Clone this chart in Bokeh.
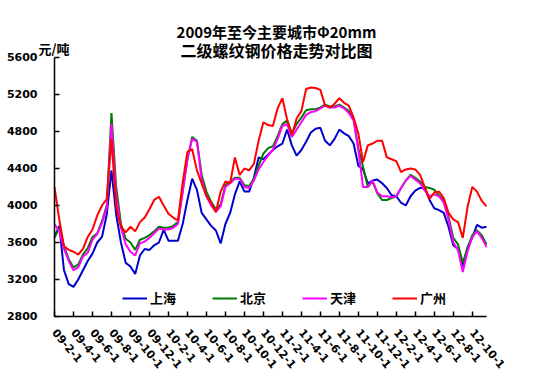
from math import pi
from bokeh.plotting import figure
from bokeh.models import FixedTicker, Range1d, Legend, LegendItem, Label, LinearAxis
from bokeh.embed import file_html
from bokeh.resources import INLINE

# x: months since 2009-02-01, half-month sampling
months = [i * 0.5 for i in range(92)]

tick_pos = [0, 2, 4, 6, 8, 10, 12, 14, 16, 18, 20, 22, 24, 26, 28, 30, 32, 34, 36, 38, 40, 42, 44]
tick_labels = ["09-2-1", "09-4-1", "09-6-1", "09-8-1", "09-10-1", "09-12-1",
               "10-2-1", "10-4-1", "10-6-1", "10-8-1", "10-10-1", "10-12-1",
               "11-2-1", "11-4-1", "11-6-1", "11-8-1", "11-10-1", "11-12-1",
               "12-2-1", "12-4-1", "12-6-1", "12-8-1", "12-10-1"]
y_ticks = [2800, 3200, 3600, 4000, 4400, 4800, 5200, 5600]

shanghai = [3660, 3780, 3300, 3150, 3120, 3200, 3300, 3400, 3480, 3600,
            3660, 3900, 4380, 3900, 3600, 3380, 3340, 3260, 3460, 3530,
            3520, 3570, 3600, 3740, 3620, 3620, 3620, 3800, 4060, 4290,
            4170, 3920, 3850, 3780, 3730, 3590, 3800, 3920, 4120, 4260,
            4150, 4150, 4300, 4520, 4500, 4550, 4600, 4640, 4670, 4820,
            4650, 4540, 4600, 4690, 4790, 4830, 4840, 4700, 4650, 4720,
            4820, 4780, 4750, 4670, 4430, 4390, 4240, 4270, 4280, 4240,
            4190, 4110, 4100, 4030, 4000, 4100, 4160, 4190, 4190, 4060,
            3970, 3950, 3920, 3770, 3570, 3530, 3340, 3550, 3650, 3790,
            3760, 3770]

beijing = [3650, 3760, 3560, 3420, 3330, 3360, 3470, 3540, 3660, 3700,
           3830, 4000, 5000, 4200, 3800, 3640, 3600, 3520, 3630, 3650,
           3680, 3720, 3770, 3760, 3760, 3780, 3820, 4150, 4500, 4740,
           4700, 4330, 4150, 4040, 3960, 4010, 4220, 4260, 4300, 4300,
           4220, 4210, 4290, 4430, 4560, 4620, 4640, 4750, 4880, 4920,
           4780, 4880, 4950, 5030, 5040, 5040, 5060, 5090, 5070, 5070,
           5090, 5060, 5020, 4940, 4620, 4420, 4200, 4260, 4130, 4060,
           4060, 4080, 4100, 4190, 4270, 4330, 4300, 4260, 4200, 4190,
           4170, 4110, 4050, 3880, 3650, 3580, 3380, 3540, 3680, 3730,
           3680, 3580]

tianjin = [3800, 3720, 3530, 3400, 3300, 3330, 3450, 3490, 3630, 3690,
           3810, 3970, 4880, 4100, 3760, 3580, 3500, 3460, 3590, 3610,
           3650, 3700, 3750, 3740, 3740, 3760, 3800, 4150, 4500, 4720,
           4690, 4280, 4100, 4000, 3930, 3990, 4200, 4240, 4290, 4290,
           4200, 4190, 4270, 4390, 4470, 4540, 4600, 4720, 4860, 4880,
           4740, 4820, 4900, 4980, 5010, 5020, 5050, 5080, 5060, 5060,
           5080, 5050, 5000, 4920, 4600, 4200, 4200, 4270, 4140, 4100,
           4100, 4090, 4100, 4190, 4270, 4320, 4280, 4240, 4160, 4100,
           4120, 4100, 4030, 3850, 3600, 3520, 3280, 3500, 3660, 3720,
           3650, 3550]

guangzhou = [4200, 3850, 3560, 3520, 3500, 3470, 3530, 3660, 3740, 3890,
             4000, 4070, 4720, 3980, 3770, 3710, 3770, 3720, 3820, 3870,
             3960, 4060, 4095, 4000, 3910, 3870, 3840, 4250, 4580, 4610,
             4380, 4240, 4100, 4030, 3930, 4150, 4260, 4240, 4520, 4330,
             4400, 4380, 4450, 4700, 4900, 4870, 4860, 5050, 5160, 4930,
             4760, 4940, 5020, 5260, 5275, 5270, 5250, 5080, 5060, 5100,
             5160, 5110, 5080, 4950, 4780, 4470, 4650, 4670, 4700, 4700,
             4520, 4500, 4480, 4360, 4390, 4400, 4390, 4330, 4200, 4070,
             4140, 4150, 4080, 3920, 3850, 3820, 3650, 3980, 4200, 4150,
             4050, 3990]

series_names = ["上海", "北京", "天津", "广州"]
series_colors = ["#0000CC", "#007A00", "#FF00FF", "#FF0000"]

CJK = "Noto Sans CJK SC"
W, H = 548, 390

# frame covers whole canvas; axes are drawn at fixed data locations
p = figure(width=W, height=H, min_border=0,
           x_axis_location=None, y_axis_location=None,
           x_range=Range1d(-5.687, 52.03), y_range=Range1d(2000.0, 6216.2),
           output_backend="svg", toolbar_location=None,
           background_fill_color="white", border_fill_color="white")
p.outline_line_color = None
p.grid.visible = False

renderers = []
for name, ys, col in zip(series_names, [shanghai, beijing, tianjin, guangzhou], series_colors):
    r = p.line(months, ys, line_color=col, line_width=2)
    renderers.append((name, r))

xaxis = LinearAxis(fixed_location=2800, bounds=(0, 45.5),
                   ticker=FixedTicker(ticks=tick_pos))
yaxis = LinearAxis(fixed_location=0, bounds=(2800, 5600),
                   ticker=FixedTicker(ticks=y_ticks))
for ax in (xaxis, yaxis):
    ax.axis_line_color = "black"
    ax.axis_line_width = 1.5
    ax.major_tick_line_color = "black"
    ax.major_tick_line_width = 1.5
    ax.major_tick_in = 5
    ax.major_tick_out = 0
    ax.minor_tick_line_color = None
    ax.major_label_text_font = "DejaVu Sans"
    ax.major_label_text_font_style = "bold"
    ax.major_label_text_font_size = "11px"
    ax.major_label_text_color = "black"

yaxis.major_label_standoff = 17
xaxis.major_label_overrides = {t: lab for t, lab in zip(tick_pos, tick_labels)}
xaxis.major_label_orientation = -0.87
xaxis.major_label_standoff = 14
p.add_layout(xaxis, "below")
p.add_layout(yaxis, "left")

# legend
legend = Legend(items=[LegendItem(label=n, renderers=[r]) for n, r in renderers],
                orientation="horizontal", location=(122, 83),
                glyph_width=25, glyph_height=14, label_standoff=3, spacing=36,
                padding=0, margin=0, border_line_color=None,
                background_fill_alpha=0.0,
                label_text_font=CJK, label_text_font_style="bold",
                label_text_font_size="13px", label_text_color="black")
p.add_layout(legend)

# titles and unit label (screen units, canvas = frame)
p.add_layout(Label(x=276, y=H - 31, x_units="screen", y_units="screen",
                   text="2009年至今主要城市Φ20mm", text_align="center",
                   text_baseline="middle", text_font=CJK, text_font_style="bold",
                   text_font_size="15px", text_color="black"))
p.add_layout(Label(x=276, y=H - 49, x_units="screen", y_units="screen",
                   text="二级螺纹钢价格走势对比图", text_align="center",
                   text_baseline="middle", text_font=CJK, text_font_style="bold",
                   text_font_size="16px", text_color="black"))
p.add_layout(Label(x=38, y=H - 48, x_units="screen", y_units="screen",
                   text="元/吨", text_align="left",
                   text_baseline="middle", text_font=CJK, text_font_style="bold",
                   text_font_size="13px", text_color="black"))

open("out.html", "w").write(file_html(p, INLINE))
